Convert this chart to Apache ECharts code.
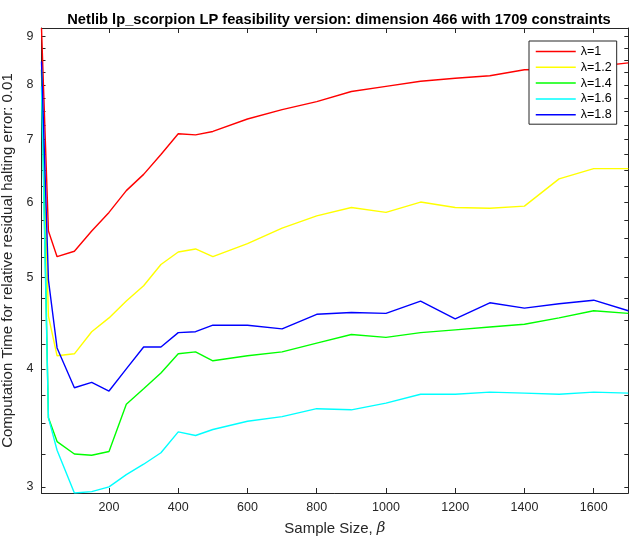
<!DOCTYPE html>
<html>
<head>
<meta charset="utf-8">
<script src="https://cdn.jsdelivr.net/npm/echarts@6/dist/echarts.min.js"></script>
<style>
  html, body { margin: 0; padding: 0; background: #fff; }
  #chart { width: 631px; height: 537px; }
</style>
</head>
<body>
<div id="chart"></div>
<script>
// sample sizes (beta) on the x axis
const sampleSizes = [5, 25, 50, 100, 150, 200, 250, 300, 350, 400, 450, 500,
  600, 700, 800, 900, 1000, 1100, 1200, 1300, 1400, 1500, 1600, 1700];

const lambdaNames = ['λ=1', 'λ=1.2', 'λ=1.4', 'λ=1.6', 'λ=1.8'];
const lambdaColors = ['#ff0000', '#ffff00', '#00ff00', '#00ffff', '#0000ff'];

// computation time, one list per lambda
const timeL10 = [9.19, 5.60, 5.26, 5.33, 5.60, 5.86, 6.18, 6.43, 6.75, 7.10, 7.08, 7.14,
  7.36, 7.53, 7.68, 7.87, 7.97, 8.07, 8.13, 8.18, 8.30, 8.31, 8.36, 8.44];
const timeL12 = [8.30, 4.55, 4.13, 4.15, 4.38, 4.53, 4.72, 4.90, 5.16, 5.32, 5.36, 5.26,
  5.43, 5.64, 5.81, 5.93, 5.86, 6.01, 5.93, 5.92, 5.95, 6.36, 6.52, 6.52];
const timeL14 = [8.30, 3.55, 3.35, 3.25, 3.24, 3.27, 3.67, 3.81, 3.96, 4.15, 4.17, 4.08,
  4.13, 4.17, 4.26, 4.35, 4.32, 4.37, 4.40, 4.43, 4.46, 4.53, 4.61, 4.58];
const timeL16 = [7.97, 3.55, 3.28, 2.955, 2.965, 3.00, 3.09, 3.17, 3.26, 3.43, 3.40, 3.45,
  3.52, 3.56, 3.63, 3.62, 3.68, 3.76, 3.76, 3.78, 3.77, 3.76, 3.78, 3.77];
const timeL18 = [8.47, 4.97, 4.21, 3.82, 3.87, 3.79, 4.00, 4.22, 4.22, 4.37, 4.38, 4.45,
  4.45, 4.41, 4.57, 4.59, 4.58, 4.72, 4.52, 4.70, 4.64, 4.69, 4.73, 4.61];

const xTicks = [200, 400, 600, 800, 1000, 1200, 1400, 1600];
const yTicks = [3, 4, 5, 6, 7, 8, 9];
const yMinorTicks = [];
for (let i = 0; i <= 24; i++) yMinorTicks.push(3 + i * 0.25);

const allSeries = [timeL10, timeL12, timeL14, timeL16, timeL18];

// the y axis is logarithmic: values go through log10 onto a value axis
const lg = (v) => Math.log10(v);
const yMin = lg(Math.min(...allSeries.flat()));
const yMax = lg(Math.max(...allSeries.flat()));
const xMin = sampleSizes[0];
const xMax = sampleSizes[sampleSizes.length - 1];

const axisColor = '#262626';
const font = 'Liberation Sans, Arial, Helvetica, sans-serif';

const chart = echarts.init(document.getElementById('chart'));

const xAxisBase = {
  type: 'value',
  min: xMin,
  max: xMax,
  axisLine: { show: true, onZero: false, lineStyle: { color: axisColor, width: 1 } },
  axisTick: { show: true, inside: true, length: 5, customValues: xTicks, lineStyle: { color: axisColor } },
  splitLine: { show: false }
};

const yAxisBase = {
  type: 'value',
  min: yMin,
  max: yMax,
  axisLine: { show: true, onZero: false, lineStyle: { color: axisColor, width: 1 } },
  axisTick: { show: true, inside: true, length: 4, customValues: yMinorTicks.map(lg), lineStyle: { color: axisColor } },
  splitLine: { show: false }
};

const option = {
  animation: false,
  backgroundColor: '#fff',
  textStyle: { fontFamily: font },
  title: {
    text: 'Netlib lp_scorpion LP feasibility version: dimension 466 with 1709 constraints',
    left: 334,
    textAlign: 'center',
    top: 7,
    textStyle: { fontSize: 14.7, fontWeight: 'bold', color: '#000', fontFamily: font }
  },
  grid: {
    left: 41.5,
    right: 2.7,
    top: 28,
    bottom: 44,
    outerBoundsMode: 'none'
  },
  legend: {
    orient: 'vertical',
    left: 529,
    top: 41,
    padding: [4, 5, 3, 6],
    itemWidth: 40,
    itemHeight: 10,
    itemGap: 2.8,
    backgroundColor: '#fff',
    borderColor: axisColor,
    borderWidth: 1,
    borderRadius: 0,
    itemStyle: { opacity: 0 },
    lineStyle: { width: 1.5 },
    textStyle: { fontSize: 12.5, color: '#000', fontFamily: font },
    data: lambdaNames
  },
  xAxis: [
    Object.assign({}, xAxisBase, {
      position: 'bottom',
      name: '{n|Sample Size, }{b|β}',
      nameLocation: 'middle',
      nameGap: 28,
      nameTextStyle: {
        rich: {
          n: { fontSize: 15, color: axisColor, fontFamily: font },
          b: { fontSize: 15, color: axisColor, fontStyle: 'italic', fontFamily: 'DejaVu Serif, serif' }
        }
      },
      axisLabel: {
        show: true,
        customValues: xTicks,
        margin: 8,
        fontSize: 12.5,
        color: axisColor,
        formatter: (v) => String(v)
      }
    }),
    Object.assign({}, xAxisBase, {
      position: 'top',
      axisLabel: { show: false }
    })
  ],
  yAxis: [
    Object.assign({}, yAxisBase, {
      position: 'left',
      name: 'Computation Time for relative residual halting error: 0.01',
      nameLocation: 'middle',
      nameGap: 14,
      nameTextStyle: { fontSize: 15, color: axisColor, fontFamily: font },
      axisLabel: {
        show: true,
        customValues: yTicks.map(lg),
        margin: 8,
        fontSize: 12.5,
        color: axisColor,
        formatter: (v) => String(Math.round(Math.pow(10, v)))
      }
    }),
    Object.assign({}, yAxisBase, {
      position: 'right',
      axisLabel: { show: false }
    })
  ],
  series: allSeries.map((vals, i) => ({
    name: lambdaNames[i],
    type: 'line',
    xAxisIndex: 0,
    yAxisIndex: 0,
    symbol: 'none',
    color: lambdaColors[i],
    lineStyle: { width: 1.4, color: lambdaColors[i] },
    data: sampleSizes.map((x, j) => [x, lg(vals[j])])
  }))
};

chart.setOption(option);
</script>
</body>
</html>
